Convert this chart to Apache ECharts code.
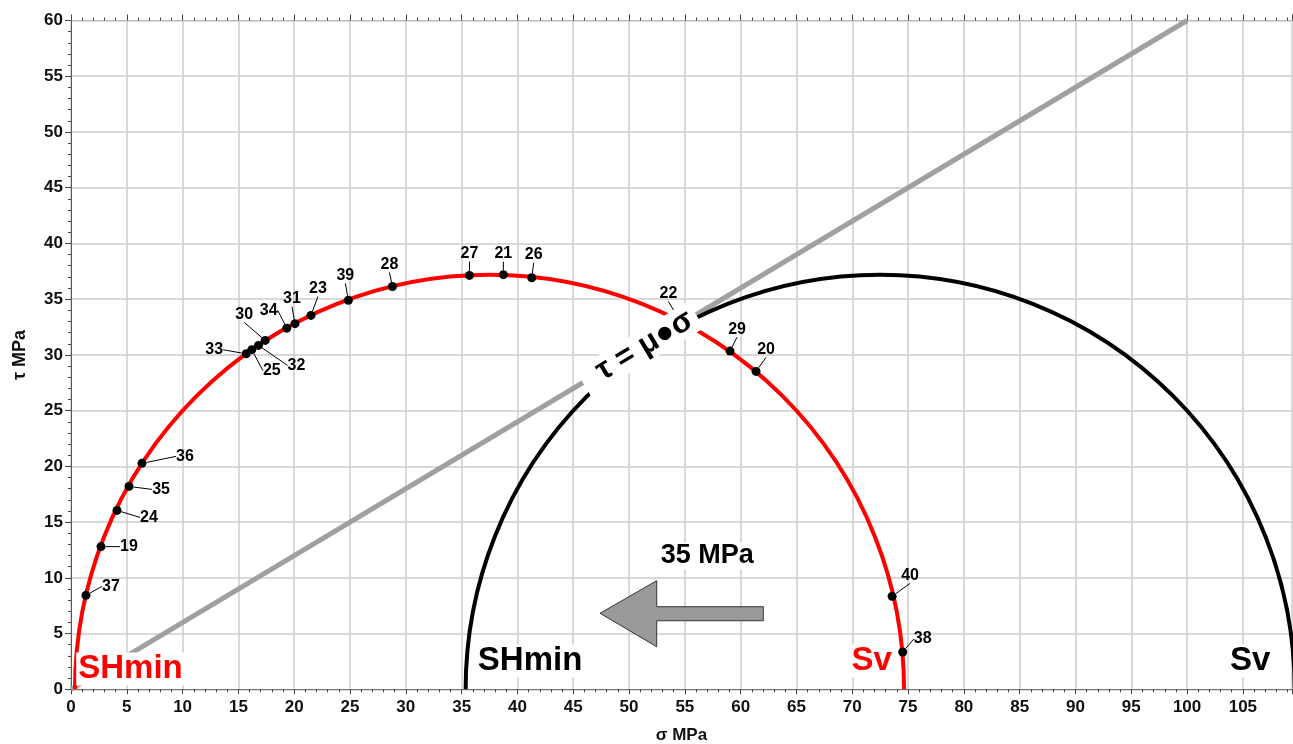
<!DOCTYPE html>
<html>
<head>
<meta charset="utf-8">
<script src="https://cdn.jsdelivr.net/npm/echarts@6/dist/echarts.min.js"></script>
<style>
  html, body {margin: 0; padding: 0; background: #fff;}
  #chart {width: 1293px; height: 744px;}
</style>
</head>
<body>
<div id="chart"></div>
<script>
  // principal stresses of the two Mohr circles [SHmin, Sv]
  var circleRed = [0.36, 74.64]
  var circleBlack = [35.36, 109.64]

  // friction line tau = mu * sigma
  var frictionLine = [[0, 0], [100, 60]]

  // numbered fractures on the red circle
  var pointIds = ['37', '19', '24', '35', '36', '33', '25', '32', '30', '34', '31', '23', '39', '28', '27', '21', '26', '22', '29', '20', '40', '38']
  var sigmaN = [1.34, 2.69, 4.12, 5.2, 6.36, 15.7, 16.2, 16.8, 17.4, 19.33, 20.07, 21.5, 24.85, 28.8, 35.7, 38.74, 41.28, 54.6, 59.05, 61.38, 73.57, 74.52]
  var tau = [8.43, 12.8, 16.05, 18.2, 20.27, 30.1, 30.47, 30.85, 31.3, 32.4, 32.8, 33.54, 34.9, 36.14, 37.13, 37.2, 36.92, 33.0, 30.34, 28.52, 8.34, 3.35]

  // text annotations
  var annoText = ['SHmin', 'SHmin', 'Sv', 'Sv', '35 MPa', 'τ = μ●σ']
  var annoX = [5.33, 41.13, 71.73, 105.65, 57.0, 50.94]
  var annoY = [1.82, 2.54, 2.54, 2.54, 11.96, 30.56]

  // shift arrow outline (sigma, tau)
  var arrowShape = [[47.4, 6.82], [52.48, 9.74], [52.48, 7.41], [62.03, 7.41], [62.03, 6.15], [52.48, 6.15], [52.48, 3.82]]

  // label placement (pixel offsets from each point)
  var labelOffsets = [[25, -9], [28, 0], [32, 7], [32, 3], [43, -7], [-32, -4], [20, 21], [38, 20], [-21, -26], [-18, -18], [-3, -25], [7, -27], [-3, -25], [-3, -22], [0, -22], [0, -21], [2, -23], [-12, -28], [7, -22], [10, -22], [18, -21], [20, -13]]
  var annoStyle = [
    {color: '#ff0000', fontSize: 33},
    {color: '#000', fontSize: 33},
    {color: '#ff0000', fontSize: 33},
    {color: '#000', fontSize: 33},
    {color: '#000', fontSize: 27},
    {color: '#000', fontSize: 31, rotate: 31, padding: [0, 6, 0, 18]}
  ]

  var font = '"Liberation Sans", Arial, sans-serif'

  var points = sigmaN.map(function (s, i) {
    return {name: pointIds[i], value: [s, tau[i]]}
  })

  var annotations = annoText.map(function (t, i) {
    var st = annoStyle[i]
    return {
      value: [annoX[i], annoY[i]],
      label: {
        formatter: t,
        color: st.color,
        fontSize: st.fontSize,
        rotate: st.rotate || 0,
        padding: st.padding || [0, 2, 0, 2]
      }
    }
  })

  function circleItem(params, api) {
    var s3 = api.value(0)
    var s1 = api.value(1)
    var c = api.coord([(s3 + s1) / 2, 0])
    var r = api.size([(s1 - s3) / 2, 0])[0]
    return {
      type: 'arc',
      shape: {cx: c[0], cy: c[1], r: r, startAngle: Math.PI, endAngle: 2 * Math.PI, clockwise: true},
      style: {stroke: api.visual('color'), lineWidth: 4, fill: null}
    }
  }

  var tickStyle = {color: '#444', width: 1}
  var xBase = {
    type: 'value',
    min: 0,
    max: 109.4,
    interval: 5
  }

  var chart = echarts.init(document.getElementById('chart'))
  var option = {
    animation: false,
    backgroundColor: '#fff',
    grid: {left: 71, right: 1, top: 20.5, bottom: 54.7, containLabel: false, outerBoundsMode: 'none'},
    xAxis: [
      Object.assign({}, xBase, {
        position: 'bottom',
        name: 'σ MPa',
        nameLocation: 'middle',
        nameGap: 38,
        nameTextStyle: {fontFamily: font, fontWeight: 'bold', fontSize: 17, color: '#111'},
        axisLine: {onZero: false, lineStyle: {color: '#777', width: 1}},
        axisTick: {show: true, length: 5, lineStyle: tickStyle},
        minorTick: {show: true, splitNumber: 5, length: 3, lineStyle: tickStyle},
        splitLine: {show: true, lineStyle: {color: '#cccccc', width: 1.5}},
        axisLabel: {fontFamily: font, fontWeight: 'bold', fontSize: 17, color: '#111', margin: 10, showMaxLabel: false}
      }),
      Object.assign({}, xBase, {
        position: 'top',
        axisLine: {onZero: false, lineStyle: {color: '#bbb', width: 1}},
        axisTick: {show: true, length: 6, lineStyle: tickStyle},
        minorTick: {show: true, splitNumber: 5, length: 3, lineStyle: tickStyle},
        splitLine: {show: false},
        axisLabel: {show: false}
      })
    ],
    yAxis: {
      type: 'value',
      min: 0,
      max: 60,
      interval: 5,
      name: 'τ MPa',
      nameLocation: 'middle',
      nameGap: 42,
      nameTextStyle: {fontFamily: font, fontWeight: 'bold', fontSize: 18, color: '#111'},
      axisLine: {show: true, onZero: false, lineStyle: {color: '#555', width: 1}},
      axisTick: {show: true, length: 6, lineStyle: tickStyle},
      minorTick: {show: true, splitNumber: 5, length: 3, lineStyle: tickStyle},
      splitLine: {show: true, lineStyle: {color: '#cccccc', width: 1.5}},
      axisLabel: {fontFamily: font, fontWeight: 'bold', fontSize: 17, color: '#111', margin: 8}
    },
    series: [
      {
        name: 'friction',
        type: 'line',
        data: frictionLine,
        symbol: 'none',
        z: 2,
        lineStyle: {color: '#a0a0a0', width: 5, cap: 'butt'}
      },
      {
        name: 'circle black',
        type: 'custom',
        renderItem: circleItem,
        itemStyle: {color: '#000'},
        data: [circleBlack],
        z: 3
      },
      {
        name: 'circle red',
        type: 'custom',
        renderItem: circleItem,
        itemStyle: {color: '#ff0000'},
        data: [circleRed],
        z: 3
      },
      {
        name: 'arrow',
        type: 'custom',
        renderItem: function (params, api) {
          return {
            type: 'polygon',
            shape: {points: arrowShape.map(function (p) { return api.coord(p) })},
            style: {fill: '#9a9a9a', stroke: '#333', lineWidth: 1}
          }
        },
        data: [arrowShape[0]],
        z: 6
      },
      {
        name: 'fractures',
        type: 'scatter',
        data: points,
        symbol: 'circle',
        symbolSize: 9,
        itemStyle: {color: '#000', opacity: 1},
        z: 5,
        label: {
          show: true,
          position: 'inside',
          formatter: '{b}',
          fontFamily: font,
          fontWeight: 'bold',
          fontSize: 16,
          color: '#000',
          textBorderWidth: 0
        },
        labelLine: {show: true, lineStyle: {color: '#000', width: 1}},
        labelLayout: function (p) {
          var o = labelOffsets[p.dataIndex]
          return {dx: o[0], dy: o[1]}
        }
      },
      {
        name: 'annotations',
        type: 'scatter',
        data: annotations,
        symbolSize: 0,
        silent: true,
        itemStyle: {opacity: 1},
        z: 10,
        label: {
          show: true,
          position: 'inside',
          fontFamily: font,
          fontWeight: 'bold',
          textBorderWidth: 0,
          backgroundColor: '#fff'
        }
      }
    ]
  }
  chart.setOption(option)
</script>
</body>
</html>
